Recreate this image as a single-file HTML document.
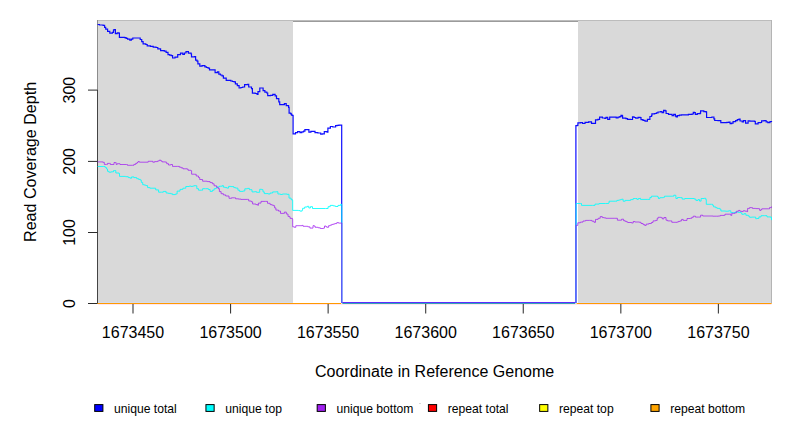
<!DOCTYPE html>
<html><head><meta charset="utf-8"><title>Read Coverage Depth</title>
<style>
html,body{margin:0;padding:0;background:#fff;width:792px;height:432px;overflow:hidden}
svg{display:block}
text{font-family:'Liberation Sans',Arial,sans-serif;fill:#000}
</style></head><body>
<svg width="792" height="432" viewBox="0 0 792 432">
<rect x="0" y="0" width="792" height="432" fill="#fff"/>

<rect x="97" y="20" width="196" height="283.5" fill="#d9d9d9"/>
<rect x="578" y="20" width="194" height="283.5" fill="#d9d9d9"/>
<line x1="97.5" y1="302.5" x2="293" y2="302.5" stroke="#d4dced" stroke-width="1"/>
<line x1="578" y1="302.5" x2="771.5" y2="302.5" stroke="#d4dced" stroke-width="1"/>
<line x1="98" y1="304.5" x2="771.5" y2="304.5" stroke="#ffe6ee" stroke-width="1"/>
<line x1="97" y1="20.5" x2="293" y2="20.5" stroke="#bcbcbc" stroke-width="1"/>
<line x1="578" y1="20.5" x2="772" y2="20.5" stroke="#bcbcbc" stroke-width="1"/>
<line x1="771.5" y1="20" x2="771.5" y2="303" stroke="#b4b4b4" stroke-width="1"/>
<line x1="97.5" y1="20" x2="97.5" y2="90" stroke="#8c8c8c" stroke-width="1"/>
<line x1="293" y1="21.2" x2="578" y2="21.2" stroke="#7a7a7a" stroke-width="1.3"/>
<line x1="97.5" y1="90" x2="97.5" y2="304" stroke="#444" stroke-width="1.05"/>
<line x1="88" y1="303.50" x2="97.5" y2="303.50" stroke="#2a2a2a" stroke-width="1"/>
<text x="0" y="0" font-size="16" text-anchor="middle" transform="translate(75.2,303.50) rotate(-90)">0</text>
<line x1="88" y1="232.50" x2="97.5" y2="232.50" stroke="#2a2a2a" stroke-width="1"/>
<text x="0" y="0" font-size="16" text-anchor="middle" transform="translate(75.2,232.50) rotate(-90)">100</text>
<line x1="88" y1="161.40" x2="97.5" y2="161.40" stroke="#2a2a2a" stroke-width="1"/>
<text x="0" y="0" font-size="16" text-anchor="middle" transform="translate(75.2,161.40) rotate(-90)">200</text>
<line x1="88" y1="90.10" x2="97.5" y2="90.10" stroke="#2a2a2a" stroke-width="1"/>
<text x="0" y="0" font-size="16" text-anchor="middle" transform="translate(75.2,90.10) rotate(-90)">300</text>
<line x1="133.00" y1="303.5" x2="133.00" y2="313.6" stroke="#3a3a3a" stroke-width="1.1"/>
<text x="133.00" y="337.6" font-size="16" text-anchor="middle">1673450</text>
<line x1="230.56" y1="303.5" x2="230.56" y2="313.6" stroke="#3a3a3a" stroke-width="1.1"/>
<text x="230.56" y="337.6" font-size="16" text-anchor="middle">1673500</text>
<line x1="328.13" y1="303.5" x2="328.13" y2="313.6" stroke="#3a3a3a" stroke-width="1.1"/>
<text x="328.13" y="337.6" font-size="16" text-anchor="middle">1673550</text>
<line x1="425.69" y1="303.5" x2="425.69" y2="313.6" stroke="#3a3a3a" stroke-width="1.1"/>
<text x="425.69" y="337.6" font-size="16" text-anchor="middle">1673600</text>
<line x1="523.26" y1="303.5" x2="523.26" y2="313.6" stroke="#3a3a3a" stroke-width="1.1"/>
<text x="523.26" y="337.6" font-size="16" text-anchor="middle">1673650</text>
<line x1="620.83" y1="303.5" x2="620.83" y2="313.6" stroke="#3a3a3a" stroke-width="1.1"/>
<text x="620.83" y="337.6" font-size="16" text-anchor="middle">1673700</text>
<line x1="718.39" y1="303.5" x2="718.39" y2="313.6" stroke="#3a3a3a" stroke-width="1.1"/>
<text x="718.39" y="337.6" font-size="16" text-anchor="middle">1673750</text>
<text x="434.6" y="377" font-size="16" text-anchor="middle">Coordinate in Reference Genome</text>
<text x="0" y="0" font-size="16.1" text-anchor="middle" transform="translate(35.8,161.9) rotate(-90)">Read Coverage Depth</text>
<polyline fill="none" stroke="#0000ff" stroke-opacity="0.95" stroke-width="1.2" stroke-linejoin="miter" points="97.6,24.5 99.4,24.5 99.4,25.0 103.1,25.0 103.1,25.4 104.6,25.4 104.6,27.3 105.7,27.3 105.7,29.1 107.6,29.1 107.6,31.3 109.8,31.3 109.8,33.2 112.4,33.2 112.4,32.4 113.5,32.4 113.5,29.9 114.6,29.9 114.6,29.5 115.4,29.5 115.4,33.6 116.5,33.6 116.5,33.7 117.2,33.7 117.2,32.8 118.7,32.8 118.7,33.2 119.4,33.2 119.4,37.3 124.6,37.3 124.6,37.6 126.1,37.6 126.1,38.4 127.6,38.4 127.6,39.1 129.8,39.1 129.8,40.2 131.3,40.2 131.3,39.1 132.8,39.1 132.8,38.0 138.0,38.0 140.2,38.0 140.2,39.5 141.7,39.5 141.7,41.7 143.1,41.7 143.1,43.9 145.8,43.9 145.8,44.5 147.2,44.5 147.2,45.9 150.4,45.9 150.4,46.3 153.2,46.3 153.2,47.2 156.0,47.2 156.0,47.5 157.8,47.5 157.8,48.9 160.6,48.9 160.6,50.7 164.3,50.7 164.3,51.2 166.1,51.2 166.1,52.4 168.0,52.4 168.0,54.6 169.6,54.6 169.6,55.1 171.2,55.1 171.2,55.6 172.6,55.6 172.6,58.0 175.0,58.0 175.0,57.2 177.7,57.2 177.7,54.6 180.5,54.6 180.5,53.1 182.8,53.1 182.8,54.3 184.4,54.3 184.4,53.0 186.0,53.0 186.0,51.7 188.4,51.7 188.4,53.1 191.1,53.1 191.1,54.0 191.5,54.0 191.5,56.9 194.7,56.9 194.7,56.5 195.6,56.5 195.6,60.2 197.0,60.2 197.0,61.1 197.9,61.1 197.9,63.9 199.8,63.9 199.8,66.2 202.1,66.2 202.1,65.7 204.9,65.7 204.9,66.9 206.5,66.9 206.5,67.5 208.1,67.5 208.1,68.1 209.5,68.1 209.5,69.9 214.1,69.9 215.1,69.9 215.1,72.7 217.4,72.7 217.4,71.8 218.8,71.8 218.8,74.1 220.4,74.1 220.4,75.0 222.0,75.0 222.0,75.9 223.4,75.9 223.4,78.2 226.2,78.2 226.2,80.4 230.8,80.4 230.8,81.0 232.4,81.0 232.4,81.5 234.1,81.5 234.1,81.9 235.4,81.9 235.4,83.8 237.3,83.8 237.3,85.6 239.1,85.6 239.1,88.0 240.9,88.0 240.9,87.5 242.7,87.5 242.7,87.0 244.6,87.0 244.6,84.7 247.8,84.7 247.8,84.4 248.7,84.4 248.7,87.0 251.5,87.0 251.5,88.7 252.4,88.7 252.4,93.1 255.2,93.1 255.2,93.5 257.1,93.5 257.1,94.3 258.0,94.3 258.0,91.7 259.8,91.7 259.8,88.0 261.2,88.0 263.1,88.0 263.1,90.7 264.9,90.7 264.9,92.1 266.8,92.1 266.8,93.0 267.7,93.0 267.7,95.6 270.5,95.6 270.5,95.4 272.8,95.4 272.8,94.4 275.1,94.4 275.1,95.8 276.5,95.8 276.5,98.6 278.8,98.6 278.8,101.9 279.7,101.9 279.7,104.6 282.5,104.6 284.4,104.6 284.4,103.7 286.2,103.7 286.2,105.6 288.6,105.6 288.6,107.4 289.1,107.4 289.1,113.1 290.7,113.1 290.7,113.9 291.5,113.9 291.5,115.1 292.7,115.1 292.7,115.5 293.1,115.5 293.1,133.8 295.5,133.8 295.5,132.6 297.6,132.6 297.6,131.7 300.0,131.7 300.0,132.6 301.8,132.6 301.8,131.8 303.6,131.8 303.6,131.1 304.9,131.1 304.9,129.6 308.1,129.6 308.9,129.6 308.9,132.1 310.9,132.1 310.9,131.3 313.8,131.3 315.0,131.3 315.0,132.7 317.8,132.7 317.8,133.0 320.7,133.0 320.7,134.2 322.3,134.2 322.3,133.8 324.3,133.8 324.3,131.7 327.1,131.7 327.1,132.1 327.9,132.1 327.9,128.1 330.4,128.1 330.4,126.5 332.8,126.5 332.8,127.0 335.6,127.0 335.6,125.7 337.2,125.7 337.2,125.4 338.9,125.4 338.9,125.1 341.7,125.1 341.7,124.5 341.7,124.5 341.7,303.0"/>
<polyline fill="none" stroke="#0000ff" stroke-opacity="0.95" stroke-width="1.2" stroke-linejoin="miter" points="575.9,303.0 575.9,125.7 575.9,125.7 577.3,125.7 577.3,125.3 577.9,125.3 577.9,122.8 580.5,122.8 580.5,122.7 582.6,122.7 582.6,123.5 585.0,123.5 585.0,122.3 588.6,122.3 588.6,121.9 591.5,121.9 591.5,123.3 595.1,123.3 595.5,123.3 595.5,119.8 597.9,119.8 597.9,119.4 599.6,119.4 599.6,117.2 602.4,117.2 602.4,118.0 604.8,118.0 604.8,118.5 606.0,118.5 606.0,117.4 607.7,117.4 607.7,119.3 609.7,119.3 609.7,117.2 614.1,117.2 616.2,117.2 616.2,117.8 618.0,117.8 618.0,117.2 619.8,117.2 619.8,116.6 621.0,116.6 621.0,115.4 622.2,115.4 622.2,115.8 622.6,115.8 622.6,118.2 625.9,118.2 625.9,118.6 627.5,118.6 627.5,119.4 630.4,119.4 630.4,119.5 632.5,119.5 632.5,116.9 634.1,116.9 634.1,117.5 635.7,117.5 635.7,118.1 638.1,118.1 638.1,117.3 640.1,117.3 640.1,117.7 641.0,117.7 641.0,119.7 643.0,119.7 643.0,120.4 645.0,120.4 645.0,121.1 647.4,121.1 647.4,119.3 649.9,119.3 649.9,116.5 651.5,116.5 651.5,115.6 651.9,115.6 651.9,113.8 654.7,113.8 654.7,113.5 656.4,113.5 656.4,112.8 658.0,112.8 658.0,112.0 660.4,112.0 660.4,111.6 662.0,111.6 662.0,112.7 663.6,112.7 663.6,110.4 665.2,110.4 665.2,110.8 666.1,110.8 666.1,113.5 668.5,113.5 668.5,114.3 670.9,114.3 670.9,114.4 672.1,114.4 672.1,115.6 673.7,115.6 673.7,114.4 675.4,114.4 675.4,116.2 676.2,116.2 676.2,117.0 677.4,117.0 677.4,115.6 679.4,115.6 679.4,115.2 681.4,115.2 681.4,114.8 684.7,114.8 688.4,114.8 688.4,114.3 692.1,114.3 692.1,114.0 693.3,114.0 693.3,112.4 694.5,112.4 694.5,112.7 695.3,112.7 695.3,114.3 697.3,114.3 697.3,113.6 700.2,113.6 700.2,113.2 700.6,113.2 700.6,110.8 702.2,110.8 703.8,110.8 703.8,111.6 706.2,111.6 706.2,112.2 706.6,112.2 706.6,117.5 710.3,117.5 711.9,117.5 711.9,117.0 713.9,117.0 713.9,118.9 714.7,118.9 714.7,120.5 718.0,120.5 718.0,120.7 720.8,120.7 720.8,122.7 724.9,122.7 726.9,122.7 726.9,122.4 728.9,122.4 728.9,122.1 730.1,122.1 730.1,123.7 731.7,123.7 731.7,123.2 733.1,123.2 733.1,121.7 735.6,121.7 735.6,120.6 737.3,120.6 737.3,119.6 739.0,119.6 739.0,119.2 740.1,119.2 740.1,121.0 742.2,121.0 742.2,122.0 743.5,122.0 743.5,120.6 744.9,120.6 745.6,120.6 745.6,123.2 747.4,123.2 748.1,123.2 748.1,120.8 749.8,120.8 749.8,121.1 754.7,121.1 754.7,121.5 755.3,121.5 755.3,123.9 757.1,123.9 757.1,123.8 758.1,123.8 758.1,122.7 760.6,122.7 760.6,122.5 761.6,122.5 761.6,120.8 764.0,120.8 764.0,120.6 766.1,120.6 766.1,121.8 767.8,121.8 767.8,122.7 769.9,122.7 769.9,121.7 771.5,121.7 771.5,122.0"/>
<polyline fill="none" stroke="#00ffff" stroke-opacity="0.85" stroke-width="1" stroke-linejoin="miter" points="97.6,166.5 103.8,166.5 105.2,166.5 105.2,167.6 106.6,167.6 106.6,169.0 107.5,169.0 107.5,171.3 108.9,171.3 108.9,172.2 111.2,172.2 111.2,171.8 113.5,171.8 113.5,170.6 114.9,170.6 115.8,170.6 115.8,173.0 119.1,173.0 119.1,173.6 119.5,173.6 119.5,176.4 125.6,176.4 125.6,176.7 128.3,176.7 128.3,177.6 130.2,177.6 130.2,178.2 131.6,178.2 131.6,176.9 133.9,176.9 133.9,177.6 136.7,177.6 136.7,178.7 138.6,178.7 138.6,179.4 140.4,179.4 140.4,180.1 141.3,180.1 141.3,182.4 142.7,182.4 142.7,184.7 144.3,184.7 144.3,185.1 145.9,185.1 145.9,185.6 147.6,185.6 147.6,187.6 149.9,187.6 149.9,188.2 154.0,188.2 155.7,188.2 155.7,189.9 158.6,189.9 158.6,192.2 161.5,192.2 163.3,192.2 163.3,191.4 166.1,191.4 166.1,193.0 168.4,193.0 168.4,193.4 170.8,193.4 170.8,193.8 172.5,193.8 172.5,194.6 175.4,194.6 175.4,194.0 177.1,194.0 177.1,191.1 180.0,191.1 180.0,189.4 182.9,189.4 182.9,188.2 185.8,188.2 185.8,186.5 189.3,186.5 189.3,186.1 191.0,186.1 191.0,186.4 192.8,186.4 192.8,186.0 194.5,186.0 194.5,185.6 195.6,185.6 195.6,185.8 196.8,185.8 196.8,188.7 198.5,188.7 198.5,190.2 201.4,190.2 202.6,190.2 202.6,188.7 205.5,188.7 208.4,188.7 208.4,189.5 210.1,189.5 210.1,191.4 212.4,191.4 212.4,190.2 214.1,190.2 214.1,188.7 215.9,188.7 215.9,188.1 217.0,188.1 217.0,187.0 219.4,187.0 219.4,186.2 222.3,186.2 222.3,185.6 223.4,185.6 223.4,187.2 225.2,187.2 225.2,187.6 226.9,187.6 226.9,188.1 228.6,188.1 228.6,186.4 230.9,186.4 230.9,186.6 233.8,186.6 233.8,187.6 235.6,187.6 235.6,188.1 237.9,188.1 237.9,190.2 239.6,190.2 239.6,191.4 242.9,191.4 242.9,191.0 244.8,191.0 244.8,188.8 247.4,188.8 247.4,188.4 249.4,188.4 249.4,189.7 252.0,189.7 252.0,191.9 254.6,191.9 254.6,191.7 256.5,191.7 256.5,192.3 259.1,192.3 259.7,192.3 259.7,189.3 261.7,189.3 261.7,189.7 263.0,189.7 263.0,191.9 264.3,191.9 264.3,193.6 268.2,193.6 268.2,194.0 270.1,194.0 270.1,193.0 272.7,193.0 272.7,191.9 276.6,191.9 276.6,191.7 277.9,191.7 277.9,194.0 280.5,194.0 280.5,194.5 282.4,194.5 282.4,194.0 287.0,194.0 287.0,194.3 289.0,194.3 289.0,198.1 291.1,198.1 291.1,199.7 292.4,199.7 292.4,200.2 292.7,200.2 292.7,210.4 298.4,210.4 298.4,210.6 300.0,210.6 300.0,211.1 302.1,211.1 302.1,210.1 302.6,210.1 302.6,208.3 304.7,208.3 304.7,207.0 307.3,207.0 307.3,206.3 308.8,206.3 308.8,208.0 310.4,208.0 310.4,206.7 312.0,206.7 312.5,206.7 312.5,208.5 325.5,208.5 328.1,208.5 328.1,206.7 330.2,206.7 330.2,205.4 333.3,205.4 333.3,205.9 335.4,205.9 335.4,206.5 338.0,206.5 338.0,205.4 340.6,205.4 340.6,204.4 341.9,204.4 341.8,204.4 341.8,303.0"/>
<polyline fill="none" stroke="#00ffff" stroke-opacity="0.85" stroke-width="1" stroke-linejoin="miter" points="576.1,303.0 576.1,203.5 576.2,203.5 580.4,203.5 581.5,203.5 581.5,205.4 592.4,205.4 595.0,205.4 595.0,204.1 599.2,204.1 599.2,203.5 605.4,203.5 608.5,203.5 608.5,203.0 609.1,203.0 609.1,201.2 615.8,201.2 616.9,201.2 616.9,200.4 618.7,200.4 618.7,200.0 620.5,200.0 620.5,199.6 621.6,199.6 621.6,199.2 623.1,199.2 623.1,201.2 625.2,201.2 625.2,200.4 628.0,200.4 630.6,200.4 630.6,199.6 633.2,199.6 633.2,198.5 635.8,198.5 636.9,198.5 636.9,199.4 638.4,199.4 638.4,198.5 640.0,198.5 640.0,198.3 640.5,198.3 640.5,199.4 647.8,199.4 649.9,199.4 649.9,197.5 651.4,197.5 651.4,196.2 656.1,196.2 657.7,196.2 657.7,197.0 658.4,197.0 658.4,198.5 659.8,198.5 659.8,197.7 663.4,197.7 663.4,197.3 664.5,197.3 664.5,196.2 672.8,196.2 673.8,196.2 673.8,195.2 675.4,195.2 675.4,195.4 675.9,195.4 675.9,198.5 677.5,198.5 677.5,197.5 680.6,197.5 680.6,197.7 682.2,197.7 682.2,199.1 684.8,199.1 684.8,198.5 686.0,198.5 694.3,198.5 694.3,199.1 695.9,199.1 695.9,200.4 698.0,200.4 698.0,199.6 699.5,199.6 699.5,201.1 701.1,201.1 701.1,198.5 704.2,198.5 704.2,198.3 705.8,198.3 705.8,199.6 706.3,199.6 706.3,204.3 711.5,204.3 712.6,204.3 712.6,205.3 713.6,205.3 713.6,206.9 715.7,206.9 715.7,207.7 717.2,207.7 717.2,208.4 719.9,208.4 719.9,209.2 720.9,209.2 720.9,211.0 725.6,211.0 725.6,211.2 728.7,211.2 728.7,210.8 730.8,210.8 730.8,212.6 733.4,212.6 735.0,212.6 735.0,212.0 738.2,212.0 738.2,212.4 741.1,212.4 741.1,213.2 741.9,213.2 741.9,214.3 743.5,214.3 744.3,214.3 744.3,213.5 745.5,213.5 745.5,213.7 745.9,213.7 745.9,215.3 748.4,215.3 748.4,216.2 749.6,216.2 749.6,217.3 751.6,217.3 751.6,217.1 754.9,217.1 755.7,217.1 755.7,218.7 756.9,218.7 756.9,218.5 758.9,218.5 758.9,216.9 761.0,216.9 761.0,215.7 764.6,215.7 767.0,215.7 767.0,216.9 770.7,216.9 770.7,217.3 771.5,217.3 771.5,220.1"/>
<polyline fill="none" stroke="#a020f0" stroke-opacity="0.75" stroke-width="1" stroke-linejoin="miter" points="97.6,161.9 102.9,161.9 102.9,162.3 104.3,162.3 104.3,164.4 106.6,164.4 107.5,164.4 107.5,163.4 109.4,163.4 110.3,163.4 110.3,164.5 113.1,164.5 114.0,164.5 114.0,162.5 115.4,162.5 116.1,162.5 116.1,164.4 117.2,164.4 117.2,163.7 119.1,163.7 120.0,163.7 120.0,164.5 126.5,164.5 127.4,164.5 127.4,165.3 132.5,165.3 133.9,165.3 133.9,164.4 135.7,164.4 135.7,163.4 137.1,163.4 137.1,162.5 138.0,162.5 138.0,161.6 139.4,161.6 139.4,162.2 147.1,162.2 148.2,162.2 148.2,161.3 151.1,161.3 152.8,161.3 152.8,162.2 154.6,162.2 154.6,161.6 157.5,161.6 157.5,161.0 159.2,161.0 159.2,160.2 160.9,160.2 160.9,161.0 162.1,161.0 162.1,161.9 165.6,161.9 165.6,162.2 166.7,162.2 166.7,163.7 168.5,163.7 168.5,165.0 170.8,165.0 170.8,164.5 172.5,164.5 172.5,166.4 177.7,166.4 179.4,166.4 179.4,167.2 181.2,167.2 181.2,167.9 183.0,167.9 183.0,168.8 187.0,168.8 187.0,169.1 188.1,169.1 188.1,170.3 191.0,170.3 191.0,170.8 191.6,170.8 191.6,174.2 194.5,174.2 194.5,174.3 196.2,174.3 196.2,176.0 198.5,176.0 198.5,177.5 199.7,177.5 199.7,179.5 202.6,179.5 202.6,181.2 207.2,181.2 207.2,181.6 210.1,181.6 210.1,182.6 212.4,182.6 212.4,183.8 214.1,183.8 214.1,185.8 216.5,185.8 216.5,187.2 218.2,187.2 218.2,188.7 219.4,188.7 219.4,191.6 221.1,191.6 221.1,193.7 223.4,193.7 223.4,194.9 225.7,194.9 225.7,196.0 228.0,196.0 229.0,196.0 229.0,198.3 231.5,198.3 231.5,197.8 234.4,197.8 235.6,197.8 235.6,198.8 238.5,198.8 238.5,199.1 241.0,199.1 241.0,199.4 247.4,199.4 248.7,199.4 248.7,201.0 251.3,201.0 251.3,201.8 252.6,201.8 252.6,204.0 255.9,204.0 255.9,204.6 257.8,204.6 257.8,205.3 258.4,205.3 258.4,203.1 261.0,203.1 261.0,201.4 265.6,201.4 267.5,201.4 267.5,203.3 270.1,203.3 270.1,204.6 271.8,204.6 271.8,205.1 273.4,205.1 273.4,205.7 274.6,205.7 274.6,207.9 275.9,207.9 275.9,210.1 278.5,210.1 278.5,211.1 280.5,211.1 280.5,213.4 283.1,213.4 284.4,213.4 284.4,212.1 286.3,212.1 286.3,214.0 288.0,214.0 288.0,216.4 289.6,216.4 289.6,216.9 290.1,216.9 290.1,218.4 292.4,218.4 292.4,219.2 292.7,219.2 292.7,226.8 294.3,226.8 294.3,227.3 295.8,227.3 295.8,225.7 302.1,225.7 302.1,225.4 303.1,225.4 303.1,226.3 307.8,226.3 307.8,226.8 309.9,226.8 309.9,228.1 312.0,228.1 313.0,228.1 313.0,225.7 314.0,225.7 314.0,226.0 315.1,226.0 315.1,227.3 318.2,227.3 318.2,227.8 320.3,227.8 320.3,228.5 323.4,228.5 323.4,228.1 324.5,228.1 324.5,226.0 326.0,226.0 326.0,226.8 327.1,226.8 327.1,227.3 328.6,227.3 328.6,225.7 330.2,225.7 330.2,225.1 331.8,225.1 331.8,224.4 333.4,224.4 333.4,224.0 334.9,224.0 334.9,223.6 336.8,223.6 336.8,222.6 338.5,222.6 338.5,223.1 341.9,223.1 341.9,223.3 341.8,223.3 341.8,303.0"/>
<polyline fill="none" stroke="#a020f0" stroke-opacity="0.75" stroke-width="1" stroke-linejoin="miter" points="576.1,303.0 576.1,225.4 576.2,225.4 577.8,225.4 577.8,222.8 580.4,222.8 580.4,222.1 583.0,222.1 583.0,221.0 585.6,221.0 585.6,220.4 589.3,220.4 591.9,220.4 591.9,221.2 594.0,221.2 594.0,222.3 595.5,222.3 595.5,219.4 598.1,219.4 598.1,218.3 600.2,218.3 600.2,216.6 602.3,216.6 602.3,217.6 604.1,217.6 604.1,217.9 605.9,217.9 605.9,218.3 614.8,218.3 617.4,218.3 617.4,220.2 620.0,220.2 621.6,220.2 621.6,219.2 623.6,219.2 623.6,220.7 625.2,220.7 625.2,221.4 626.8,221.4 626.8,222.1 628.0,222.1 628.0,222.5 631.6,222.5 631.6,223.0 633.2,223.0 633.2,221.5 634.8,221.5 634.8,222.0 639.5,222.0 639.5,222.3 641.0,222.3 641.0,223.5 643.1,223.5 643.1,224.6 644.7,224.6 644.7,225.4 646.2,225.4 646.2,224.1 648.8,224.1 648.8,223.5 651.4,223.5 651.4,222.5 653.0,222.5 653.0,220.9 655.6,220.9 655.6,220.4 657.2,220.4 657.2,218.3 658.2,218.3 658.2,217.3 661.3,217.3 661.3,217.8 662.4,217.8 662.4,218.9 663.9,218.9 663.9,217.5 665.0,217.5 666.0,217.5 666.0,220.2 667.6,220.2 667.6,220.9 670.7,220.9 671.8,220.9 671.8,222.3 677.0,222.3 677.0,222.0 678.5,222.0 678.5,221.4 680.1,221.4 680.1,220.9 681.6,220.9 681.6,219.4 683.2,219.4 683.2,220.4 686.0,220.4 687.0,220.4 687.0,218.5 690.2,218.5 690.2,218.3 691.8,218.3 691.8,217.3 693.3,217.3 693.3,216.2 695.4,216.2 695.4,217.1 698.5,217.1 700.6,217.1 700.6,215.2 702.7,215.2 702.7,216.0 711.0,216.0 713.1,216.0 713.1,216.2 716.2,216.2 718.3,216.2 718.3,216.0 720.4,216.0 720.4,215.4 724.0,215.4 724.0,215.2 725.1,215.2 725.1,214.2 729.8,214.2 730.8,214.2 730.8,215.4 731.8,215.4 731.8,213.3 735.0,213.3 735.0,212.8 736.6,212.8 736.6,211.2 738.6,211.2 738.6,210.4 739.9,210.4 739.9,211.2 741.5,211.2 741.5,211.6 743.1,211.6 743.1,210.8 745.1,210.8 745.1,211.2 747.2,211.2 747.2,211.6 747.6,211.6 747.6,208.4 749.6,208.4 749.6,207.6 751.2,207.6 752.4,207.6 752.4,208.4 755.7,208.4 755.7,208.6 758.9,208.6 758.9,208.8 759.7,208.8 759.7,210.4 761.0,210.4 761.0,209.6 761.8,209.6 761.8,208.8 768.3,208.8 769.5,208.8 769.5,207.6 771.5,207.6 771.5,206.5"/>
<line x1="342.3" y1="302.5" x2="575.3" y2="302.5" stroke="#5b2bff" stroke-width="1"/>
<line x1="342.3" y1="303.5" x2="575.3" y2="303.5" stroke="#35a2b8" stroke-width="1"/>
<line x1="97.5" y1="303.5" x2="341.2" y2="303.5" stroke="#ff9a00" stroke-width="1.05"/>
<line x1="576.6" y1="303.5" x2="771.6" y2="303.5" stroke="#ff9a00" stroke-width="1.05"/>
<rect x="94.70" y="404.6" width="8.2" height="6.8" fill="#0000ff" stroke="#000" stroke-width="1"/>
<text x="114.00" y="413" font-size="12.15">unique total</text>
<rect x="205.94" y="404.6" width="8.2" height="6.8" fill="#00ffff" stroke="#000" stroke-width="1"/>
<text x="225.24" y="413" font-size="12.15">unique top</text>
<rect x="317.18" y="404.6" width="8.2" height="6.8" fill="#a020f0" stroke="#000" stroke-width="1"/>
<text x="336.48" y="413" font-size="12.15">unique bottom</text>
<rect x="428.42" y="404.6" width="8.2" height="6.8" fill="#ff0000" stroke="#000" stroke-width="1"/>
<text x="447.72" y="413" font-size="12.15">repeat total</text>
<rect x="539.66" y="404.6" width="8.2" height="6.8" fill="#ffff00" stroke="#000" stroke-width="1"/>
<text x="558.96" y="413" font-size="12.15">repeat top</text>
<rect x="650.90" y="404.6" width="8.2" height="6.8" fill="#ffa500" stroke="#000" stroke-width="1"/>
<text x="670.20" y="413" font-size="12.15">repeat bottom</text>
<rect x="419" y="403" width="2" height="1" fill="#dadada"/>
</svg>
</body></html>
